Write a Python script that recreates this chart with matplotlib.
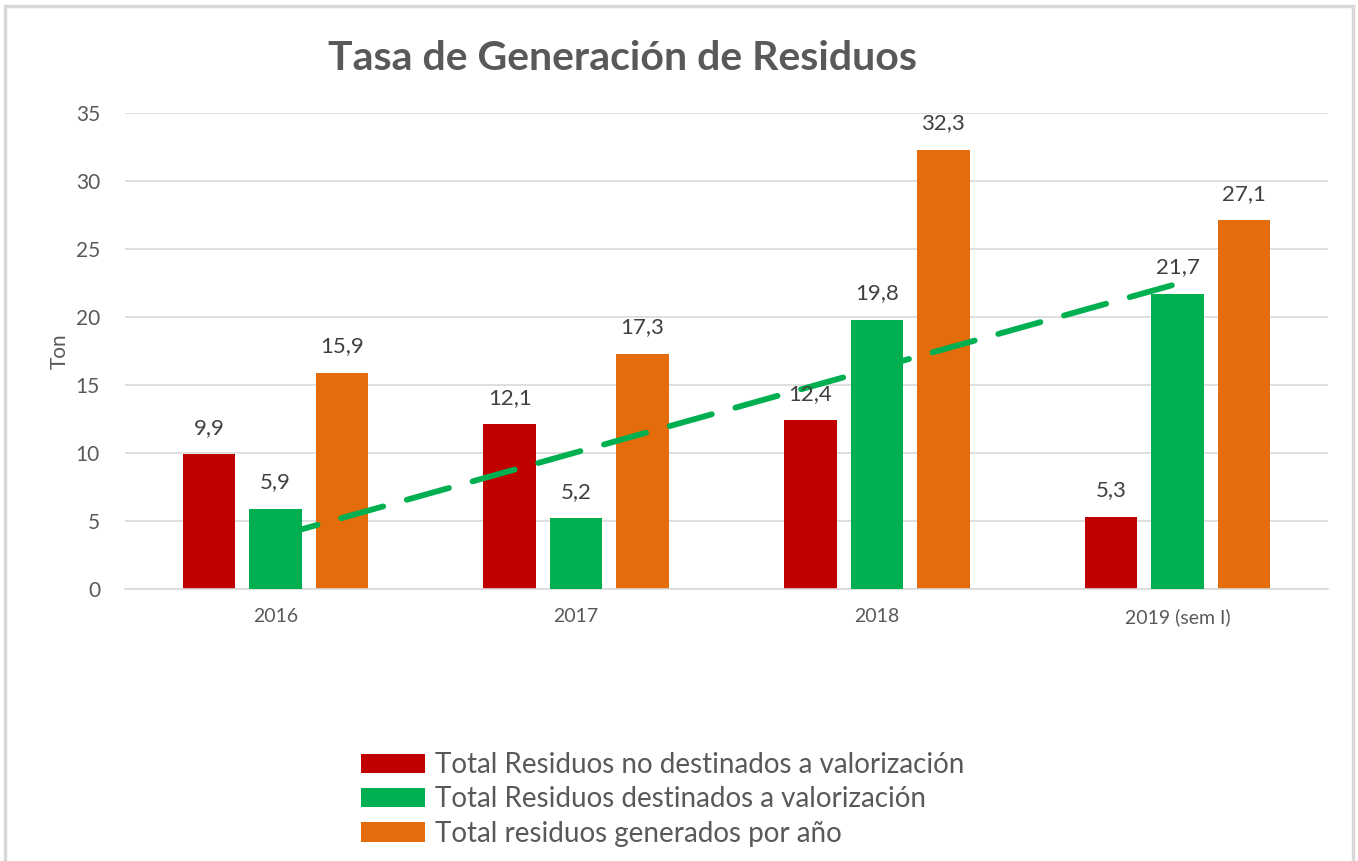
import matplotlib
matplotlib.use("Agg")
import matplotlib.pyplot as plt
import numpy as np
from matplotlib.patches import Rectangle

categories = ["2016", "2017", "2018", "2019 (sem I)"]
no_valorizacion = [9.9, 12.1, 12.4, 5.3]
valorizacion = [5.9, 5.2, 19.8, 21.7]
generados = [15.9, 17.3, 32.3, 27.1]
series_names = ["Total Residuos no destinados a valorización",
                "Total Residuos destinados a valorización",
                "Total residuos generados por año"]
colors = ["#C00000", "#00B050", "#E46C0A"]

plt.rcParams['font.family'] = ['Lato', 'DejaVu Sans']

fig = plt.figure(figsize=(13.58, 8.61), dpi=100)
ax = fig.add_axes([125/1358, 1-589/861, (1328-125)/1358, (589-113)/861])

x = np.arange(len(categories))
w = 0.175
off = 0.221
data = [no_valorizacion, valorizacion, generados]
zorders = [2, 4, 2]
for i, (vals, c, name, z) in enumerate(zip(data, colors, series_names, zorders)):
    pos = x + (i - 1) * off
    ax.bar(pos, vals, width=w, color=c, label=name, zorder=z)
    for px, v in zip(pos, vals):
        ax.annotate(f"{v:.1f}".replace(".", ","), (px, v), xytext=(0, 19),
                    textcoords="offset points", ha="center", va="center",
                    fontsize=16, color="#404040", zorder=6)

# linear trendline of the green series
coef = np.polyfit(x, valorizacion, 1)
xt = np.array([x[0], x[-1]])
ax.plot(xt, np.polyval(coef, xt), color="#00B050", lw=4.2,
        linestyle=(0, (7.5, 4.2)), dash_capstyle="round", zorder=3)

ax.set_xlim(-0.5, 3.5)
ax.set_ylim(0, 35)
ax.set_yticks(np.arange(0, 36, 5))
ax.set_xticks(x)
ax.set_xticklabels(categories)
ax.yaxis.grid(True, color="#D9D9D9", lw=1.2, zorder=0)
ax.set_axisbelow(True)
for s in ["top", "right", "left"]:
    ax.spines[s].set_visible(False)
ax.spines["bottom"].set_color("#D9D9D9")
ax.spines["bottom"].set_linewidth(1.2)
ax.tick_params(axis="both", length=0)
ax.tick_params(axis="y", labelsize=15, labelcolor="#595959", pad=18)
ax.tick_params(axis="x", labelsize=14, labelcolor="#595959", pad=14)
ax.set_ylabel("Ton", fontsize=15, color="#595959", labelpad=4)

fig.text(622/1358, 1-58/861, "Tasa de Generación de Residuos", ha="center",
         va="center", fontsize=29.5, fontweight="bold", color="#595959")

handles, labels = ax.get_legend_handles_labels()
leg = fig.legend(handles, labels, loc="upper left",
                 bbox_to_anchor=(336/1358, 1-727/861), frameon=False,
                 fontsize=20, labelcolor="#595959", handlelength=2.3,
                 handleheight=0.7, handletextpad=0.35, labelspacing=0.3)

fig.patches.append(Rectangle((5/1358, -0.05), (1353-5)/1358, 1.05 - 6/861,
                             transform=fig.transFigure, fill=False,
                             edgecolor="#D9D9D9", lw=2.5))

fig.savefig("out.png", dpi=100)
